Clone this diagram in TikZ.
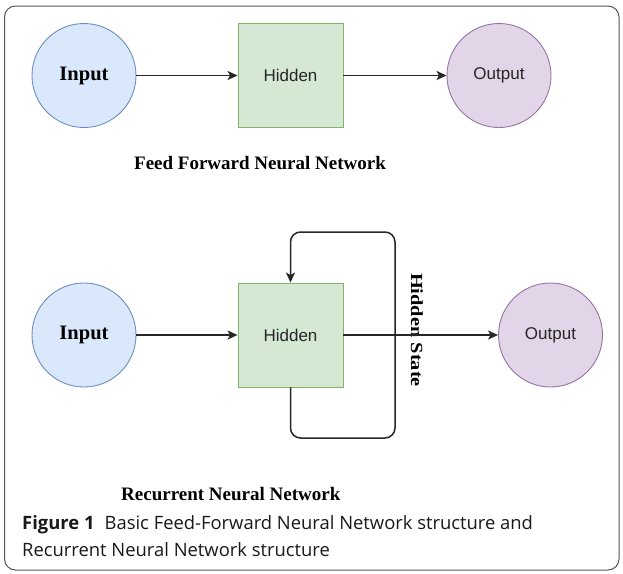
\documentclass[tikz,border=0pt]{standalone}
\usepackage{fontspec}
\setmainfont{Liberation Serif}
\newfontfamily\arialf{Liberation Sans}
\newfontfamily\capf{Open Sans}
\usetikzlibrary{arrows.meta}
\definecolor{bluefill}{HTML}{DAE8FC}
\definecolor{bluedraw}{HTML}{6C8EBF}
\definecolor{greenfill}{HTML}{D5E8D4}
\definecolor{greendraw}{HTML}{82B366}
\definecolor{purplefill}{HTML}{E1D5E7}
\definecolor{purpledraw}{HTML}{9673A6}
\definecolor{framegray}{HTML}{555555}
\tikzset{
  incircle/.style={circle, draw=bluedraw, fill=bluefill, line width=0.9pt, minimum size=104pt, inner sep=0pt, font=\fontsize{20.5}{24}\selectfont\bfseries},
  hidbox/.style={rectangle, draw=greendraw, fill=greenfill, line width=0.9pt, minimum width=105pt, minimum height=104pt, inner sep=0pt, text=black!85, font=\arialf\fontsize{17}{20}\selectfont},
  outcircle/.style={circle, draw=purpledraw, fill=purplefill, line width=0.9pt, minimum size=104pt, inner sep=0pt, text=black!85, font=\arialf\fontsize{17}{20}\selectfont},
  conn/.style={line width=1.5pt, draw=black!85, -{Stealth[length=10pt,width=9pt,inset=2.5pt]}},
  title/.style={font=\fontsize{19}{22}\selectfont\bfseries, inner sep=0pt},
  captxt/.style={font=\capf\fontsize{18.4}{22}\selectfont, inner sep=0pt, anchor=base west, text=black!90},
}
\begin{document}
\begin{tikzpicture}[x=1pt, y=-1pt]
\useasboundingbox (0,0) rectangle (623,573);
\draw[framegray, line width=1pt, rounded corners=11pt] (4.5,6) rectangle (619,570);

% Feed forward
\node[incircle] (in1) at (84,75.5) {Input};
\node[hidbox] (h1) at (290.5,75.5) {Hidden};
\node[outcircle] (o1) at (499,75.5) {Output};
\draw[conn] (in1) -- (h1);
\draw[conn] (h1) -- (o1);
\node[title, anchor=base] (t1) at (260,169) {Feed Forward Neural Network};

% Recurrent
\node[incircle] (in2) at (84,335) {Input};
\node[hidbox] (h2) at (290.5,335) {Hidden};
\node[outcircle] (o2) at (550.5,335) {Output};
\node[font=\fontsize{17}{20}\selectfont\bfseries, rotate=-90, inner sep=0pt] (hs) at (417,330) {\scalebox{1.2}[1]{Hidden State}};
\draw[conn] (in2) -- (h2);
\draw[conn] (h2) -- (o2);
\coordinate (lb) at (395,438);
\coordinate (lt) at (395,232);
\draw[conn, rounded corners=10pt] (h2.south) |- (lb) -- (lt) -| (h2.north);
\node[title, anchor=base west] (t2) at (121,500) {Recurrent Neural Network};

% caption
\node[captxt] (c1) at (22,529) {\textbf{Figure 1}\hspace{0.55em}Basic Feed-Forward Neural Network structure and};
\node[captxt] (c2) at (22,556) {Recurrent Neural Network structure};
\end{tikzpicture}
\end{document}
